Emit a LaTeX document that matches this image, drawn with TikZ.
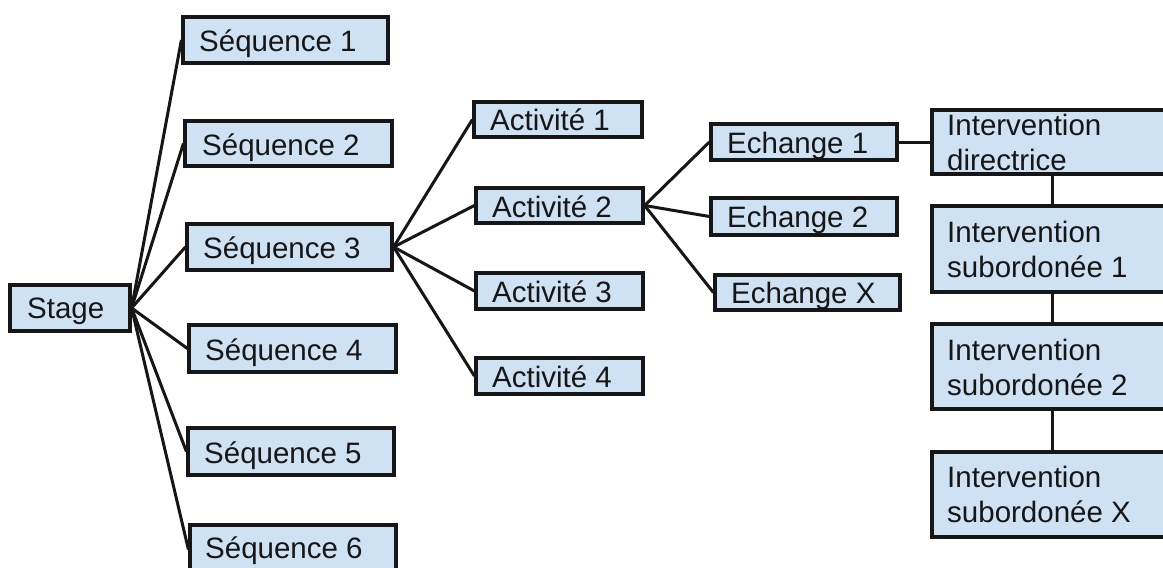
\documentclass[tikz,border=0pt]{standalone}
\usepackage{fontspec}
\setmainfont{Liberation Sans}
\usetikzlibrary{fit}
\definecolor{boxfill}{HTML}{CFE2F3}
\definecolor{ink}{HTML}{161616}
\tikzset{
  box/.style={draw=ink, fill=boxfill, line width=3.2pt, inner sep=0pt, rectangle},
  lbl/.style={anchor=base west, inner sep=0pt, text=ink, font=\fontsize{29.5}{35}\selectfont},
  link/.style={draw=ink, line width=3pt}
}
\begin{document}
\begin{tikzpicture}[x=1pt,y=-1pt]
\useasboundingbox (0,0) rectangle (1163,568);
\clip (0,0) rectangle (1163,568);
\fill[white] (0,0) rectangle (1163,568);
% boxes
\node[box, fit={(10,285)(130,331)}] (stage) {};
\node[box, fit={(183,17)(388,63)}] (s1) {};
\node[box, fit={(185,121)(392,166)}] (s2) {};
\node[box, fit={(187,224)(392,270)}] (s3) {};
\node[box, fit={(189,325)(396,372)}] (s4) {};
\node[box, fit={(188,428)(394,475)}] (s5) {};
\node[box, fit={(190,525)(396,574)}] (s6) {};
\node[box, fit={(474,102)(642,137)}] (a1) {};
\node[box, fit={(476,188)(643,223)}] (a2) {};
\node[box, fit={(476,273)(643,309)}] (a3) {};
\node[box, fit={(476,358)(643,394)}] (a4) {};
\node[box, fit={(711,124)(897,160)}] (e1) {};
\node[box, fit={(711,198)(897,235)}] (e2) {};
\node[box, fit={(715,275)(900,310)}] (ex) {};
\node[box, fit={(932,110)(1190,174)}] (i0) {};
\node[box, fit={(932,206)(1190,292)}] (i1) {};
\node[box, fit={(932,324)(1190,409)}] (i2) {};
\node[box, fit={(932,452)(1190,537)}] (ix) {};
\coordinate (vx) at (1052,0);
% connectors
\foreach \s in {s1,s2,s3,s4,s5,s6} \draw[link] (stage.east) -- (\s.west);
\foreach \a in {a1,a2,a3,a4} \draw[link] (s3.east) -- (\a.west);
\foreach \e in {e1,e2,ex} \draw[link] (a2.east) -- (\e.west);
\draw[link] (e1.east) -- (i0.west);
\draw[link] (i0.south -| vx) -- (i1.north -| vx);
\draw[link] (i1.south -| vx) -- (i2.north -| vx);
\draw[link] (i2.south -| vx) -- (ix.north -| vx);
% texts
\node[lbl] (tstage) at (27,318) {Stage};
\node[lbl] (ts1) at (199,51.5) {Séquence 1};
\node[lbl] (ts2) at (202,155) {Séquence 2};
\node[lbl] (ts3) at (203,258) {Séquence 3};
\node[lbl] (ts4) at (205,360) {Séquence 4};
\node[lbl] (ts5) at (204,463) {Séquence 5};
\node[lbl] (ts6) at (205,558) {Séquence 6};
\node[lbl] (ta1) at (490,130) {Activité 1};
\node[lbl] (ta2) at (492,217) {Activité 2};
\node[lbl] (ta3) at (492,302) {Activité 3};
\node[lbl] (ta4) at (492,387) {Activité 4};
\node[lbl] (te1) at (727,153) {Echange 1};
\node[lbl] (te2) at (727,227) {Echange 2};
\node[lbl] (tex) at (731,303) {Echange X};
\node[lbl] (ti0a) at (947,135) {Intervention};
\node[lbl] (ti0b) at (947,170) {directrice};
\node[lbl] (ti1a) at (947,242) {Intervention};
\node[lbl] (ti1b) at (947,277) {subordonée 1};
\node[lbl] (ti2a) at (947,360) {Intervention};
\node[lbl] (ti2b) at (947,395) {subordonée 2};
\node[lbl] (tixa) at (947,487) {Intervention};
\node[lbl] (tixb) at (947,522) {subordonée X};
\end{tikzpicture}
\end{document}
